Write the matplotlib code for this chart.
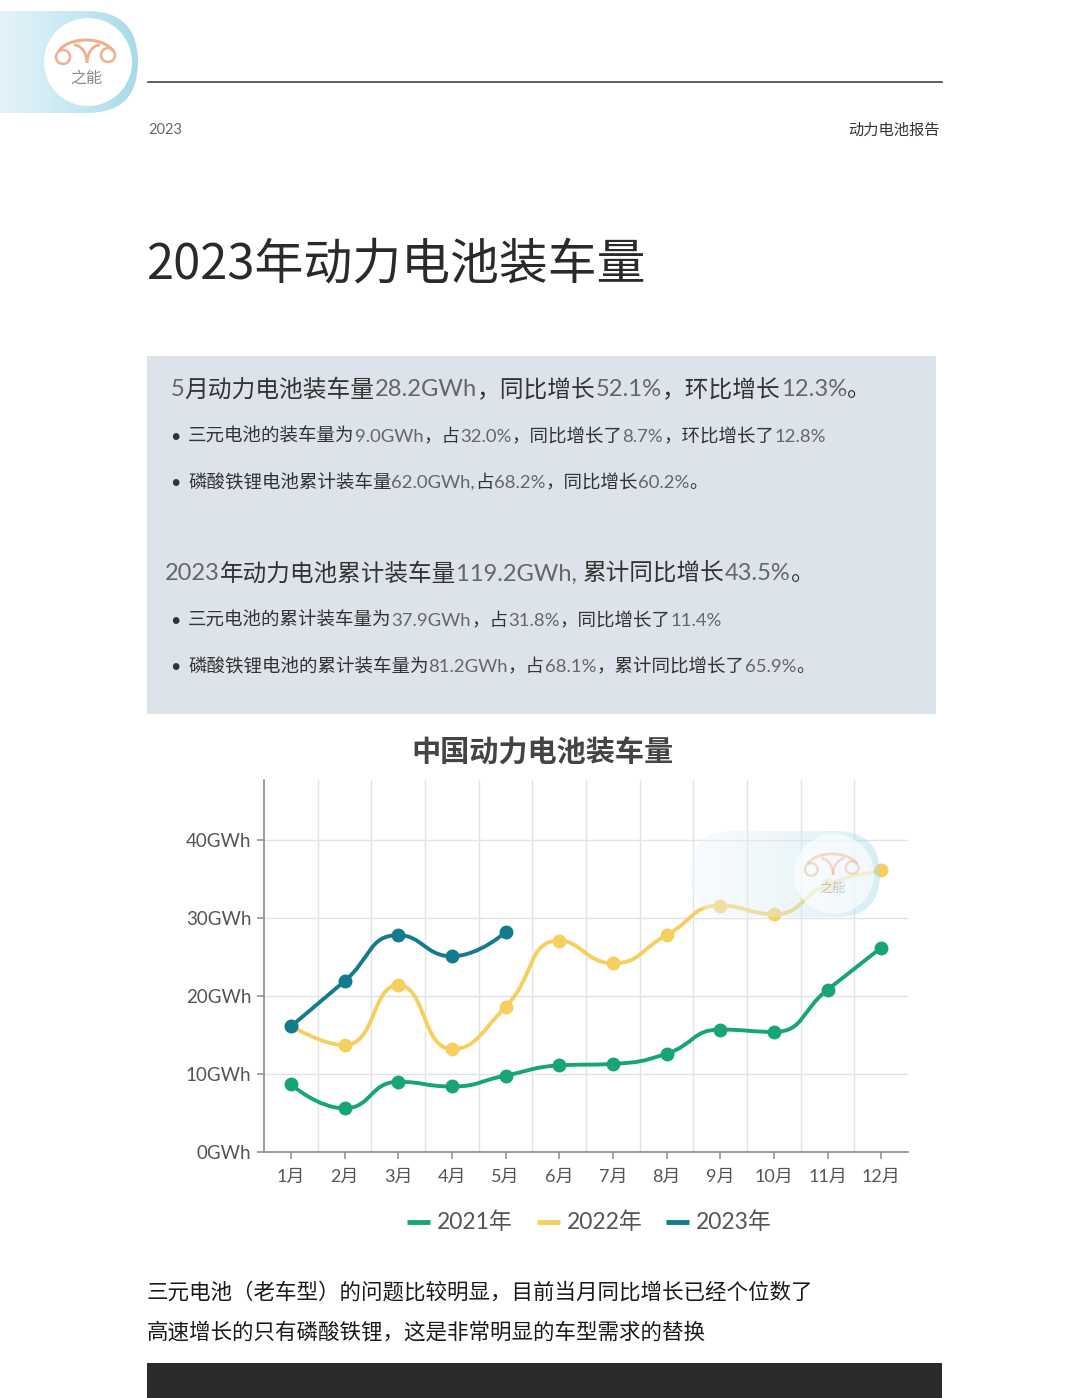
import re
import numpy as np
import matplotlib
matplotlib.use('Agg')
import matplotlib.pyplot as plt
from matplotlib.path import Path
from matplotlib.patches import PathPatch, Circle, FancyBboxPatch, Rectangle, Arc

plt.rcParams['font.family'] = ['Lato', 'Noto Sans CJK SC', 'DejaVu Sans']

# ---- data ----
months = ['1月', '2月', '3月', '4月', '5月', '6月', '7月', '8月', '9月', '10月', '11月', '12月']
y2021 = [8.7, 5.6, 9.0, 8.4, 9.8, 11.1, 11.3, 12.6, 15.7, 15.4, 20.8, 26.2]
y2022 = [16.2, 13.7, 21.4, 13.2, 18.6, 27.1, 24.2, 27.8, 31.6, 30.5, 34.3, 36.1]
y2023 = [16.1, 21.9, 27.8, 25.1, 28.2]
series_names = ['2021年', '2022年', '2023年']
series_colors = ['#17a576', '#f6cf5f', '#137b8d']
yticks = [0, 10, 20, 30, 40]
ytick_labels = [f'{v}GWh' for v in yticks]

page_title = '2023年动力电池装车量'
header_left = '2023'
header_right = '动力电池报告'
box_heading1 = '5月动力电池装车量28.2GWh，同比增长52.1%，环比增长12.3%。'
box_bullets1 = ['三元电池的装车量为9.0GWh，占32.0%，同比增长了8.7%，环比增长了12.8%',
                '磷酸铁锂电池累计装车量62.0GWh,占68.2%，同比增长60.2%。']
box_heading2 = '2023年动力电池累计装车量119.2GWh, 累计同比增长43.5%。'
box_bullets2 = ['三元电池的累计装车量为37.9GWh，占31.8%，同比增长了11.4%',
                '磷酸铁锂电池的累计装车量为81.2GWh，占68.1%，累计同比增长了65.9%。']
chart_title = '中国动力电池装车量'
footer_lines = ['三元电池（老车型）的问题比较明显，目前当月同比增长已经个位数了',
                '高速增长的只有磷酸铁锂，这是非常明显的车型需求的替换']

CJK = ['Noto Sans CJK SC', 'DejaVu Sans']
LATO = ['Lato', 'Noto Sans CJK SC', 'DejaVu Sans']


def smooth_path(xs, ys, sx, sy, smooth=0.5):
    # echarts-like smoothed bezier through the points (computed in pixel space)
    pts = np.column_stack([np.asarray(xs, float) * sx, np.asarray(ys, float) * sy])
    n = len(pts)
    verts = [pts[0]]
    codes = [Path.MOVETO]
    cp0 = pts[0].copy()
    for i in range(1, n):
        cur = pts[i]
        prev = pts[i - 1]
        if i < n - 1:
            nxt = pts[i + 1]
            v = nxt - prev
            l0 = np.hypot(*(cur - prev))
            l1 = np.hypot(*(nxt - cur))
            r = l1 / (l0 + l1)
            cp1 = cur - v * smooth * (1 - r)
            cn = cur + v * smooth * r
            cn = np.clip(cn, np.minimum(nxt, cur), np.maximum(nxt, cur))
            vv = cn - cur
            cp1 = cur - vv * l0 / l1
            cp1 = np.clip(cp1, np.minimum(prev, cur), np.maximum(prev, cur))
            vv = cur - cp1
            cn = cur + vv * l1 / l0
        else:
            cp1 = cur.copy()
            cn = cur.copy()
        verts += [cp0, cp1, cur]
        codes += [Path.CURVE4] * 3
        cp0 = cn
    verts = np.array(verts) / np.array([sx, sy])
    return Path(verts, codes)


def pill_logo(ax, x0, x1, y0, y1, cx, cy, r, alpha=1.0, text_size=10):
    h = y1 - y0
    grad = np.linspace(0, 1, 256)[None, :] ** 1.6
    c0 = np.array([238, 247, 251]) / 255
    c1 = np.array([165, 219, 231]) / 255
    img = c0[None, None, :] * (1 - grad[..., None]) + c1[None, None, :] * grad[..., None]
    clip = FancyBboxPatch((x0, y0), x1 - x0, h, boxstyle=f'round,pad=0,rounding_size={h / 2}',
                          transform=ax.transData, facecolor='none', edgecolor='none')
    ax.add_patch(clip)
    im = ax.imshow(img, extent=[x0, x1, y1, y0], aspect='auto', alpha=alpha, zorder=1)
    im.set_clip_path(clip)
    ax.add_patch(Circle((cx, cy), r, facecolor='white', edgecolor='none',
                        alpha=min(1, alpha * 1.4), zorder=2))
    s = r / 44.0
    col = '#efb08e'
    # car roof
    ax.add_patch(Arc((cx - 2 * s, cy - 5 * s), 58 * s, 34 * s, theta1=192, theta2=348,
                     color=col, lw=2.2 * s, alpha=alpha, zorder=3))
    # wheels
    ax.add_patch(Circle((cx - 25 * s, cy - 5 * s), 7 * s, facecolor='none', edgecolor=col,
                        lw=1.8 * s, alpha=alpha, zorder=3))
    ax.add_patch(Circle((cx + 20 * s, cy - 7 * s), 7 * s, facecolor='none', edgecolor=col,
                        lw=1.8 * s, alpha=alpha, zorder=3))
    # inner V
    ax.add_patch(Arc((cx - 14 * s, cy + 1 * s), 26 * s, 36 * s, theta1=270, theta2=360,
                     color=col, lw=2.0 * s, alpha=alpha, zorder=3))
    ax.add_patch(Arc((cx + 12 * s, cy + 1 * s), 26 * s, 36 * s, theta1=180, theta2=270,
                     color=col, lw=2.0 * s, alpha=alpha, zorder=3))
    ax.text(cx - 2 * s, cy + 16 * s, '之能', family=CJK, fontsize=text_size, color='#8a8a8a',
            ha='center', va='center', alpha=alpha, zorder=4)


def draw_runs(ax, renderer, x, y, text, size, dark='#333333', light='#666666'):
    # CJK parts darker, latin/digit parts lighter grey
    for part in re.findall(r'[\x20-\x7e]+|[^\x20-\x7e]+', text):
        if re.match(r'[\x20-\x7e]', part):
            t = ax.text(x, y, part, family=LATO, fontsize=size,
                        color=light, va='center', ha='left')
        else:
            t = ax.text(x, y, part, family=CJK, fontweight='medium', fontsize=size, color=dark,
                        va='center', ha='left')
        x += t.get_window_extent(renderer).width


def main():
    fig = plt.figure(figsize=(10.8, 13.98), dpi=100)
    renderer = fig.canvas.get_renderer()

    page = fig.add_axes([0, 0, 1, 1], zorder=0)
    page.set_xlim(0, 1080)
    page.set_ylim(1398, 0)
    page.axis('off')

    # header
    pill_logo(page, -60, 138, 11, 113, 88, 62, 44, text_size=11.5)
    page.plot([148, 942], [82, 82], color='#444444', lw=1.2)
    page.text(148, 130, header_left, family=LATO, fontsize=10.5, color='#666666', va='center')
    page.text(940, 130, header_right, family=CJK, fontsize=11, color='#333333', va='center', ha='right')

    page.text(146, 265, page_title, family=CJK, fontsize=35.2,
              color='#2a2a2a', va='center', ha='left')

    # summary box
    page.add_patch(Rectangle((147, 356), 789, 358, facecolor='#dde3ea', edgecolor='none'))
    draw_runs(page, renderer, 171, 390, box_heading1, 17.1)
    for yy, line in zip([437, 483], box_bullets1):
        page.text(175, yy, '•', family=LATO, fontsize=13, color='#333333', va='center', ha='center')
        draw_runs(page, renderer, 188, yy, line, 13.3)
    draw_runs(page, renderer, 165, 574, box_heading2, 17.0)
    for yy, line in zip([621, 667], box_bullets2):
        page.text(175, yy, '•', family=LATO, fontsize=13, color='#333333', va='center', ha='center')
        draw_runs(page, renderer, 188, yy, line, 13.3)

    # chart
    page.text(542, 753, chart_title, family=CJK, fontsize=21, fontweight='bold',
              color='#444444', va='center', ha='center')

    ax = fig.add_axes([264 / 1080, 1 - 1152 / 1398, 644 / 1080, 372 / 1398], zorder=1)
    ax.patch.set_alpha(0)
    ax.set_xlim(-0.5, 11.5)
    ax.set_ylim(0, 47.7)
    sx = 644 / 12
    sy = 372 / 47.7

    for yv in yticks[1:]:
        ax.axhline(yv, color='#e3e3e3', lw=1.0, zorder=0)
    for xv in np.arange(0.5, 11, 1.0):
        ax.axvline(xv, color='#e3e3e3', lw=1.0, zorder=0)

    for vals, color, z in zip([y2021, y2022, y2023], series_colors, [3, 4, 5]):
        xs = np.arange(len(vals))
        path = smooth_path(xs, vals, sx, sy)
        ax.add_patch(PathPatch(path, facecolor='none', edgecolor=color, lw=2.8,
                               capstyle='round', joinstyle='round', zorder=z))
        ax.plot(xs, vals, 'o', color=color, markersize=9, zorder=z)

    for s in ['top', 'right']:
        ax.spines[s].set_visible(False)
    ax.spines['left'].set_color('#8a8a8a')
    ax.spines['bottom'].set_color('#8a8a8a')
    ax.spines['left'].set_linewidth(1.2)
    ax.spines['bottom'].set_linewidth(1.2)
    ax.set_xticks(range(len(months)))
    ax.set_xticklabels(months, family=LATO, fontsize=13, color='#555555')
    ax.set_yticks(yticks)
    ax.set_yticklabels(ytick_labels, family=LATO, fontsize=13.5, color='#555555')
    ax.tick_params(axis='both', length=5, width=1.1, color='#8a8a8a')
    ax.tick_params(axis='x', pad=7)
    ax.tick_params(axis='y', pad=4)

    # watermark over the chart
    over = fig.add_axes([0, 0, 1, 1], zorder=2)
    over.set_xlim(0, 1080)
    over.set_ylim(1398, 0)
    over.axis('off')
    over.patch.set_alpha(0)
    pill_logo(over, 690, 880, 831, 917, 834, 874, 40, alpha=0.45, text_size=9.5)

    # legend
    for name, color, lx in zip(series_names, series_colors, [407, 537, 666]):
        page.plot([lx, lx + 23], [1222, 1222], color=color, lw=3.5, solid_capstyle='butt')
        page.text(lx + 30, 1222, name, family=LATO, fontsize=16.5, color='#555555',
                  va='center', ha='left')

    # footer text
    for yy, line in zip([1293, 1333], footer_lines):
        page.text(147, yy, line, family=CJK, fontsize=15.5, color='#1a1a1a', va='center', ha='left')
    page.add_patch(Rectangle((147, 1363), 795, 40, facecolor='#2b2b2b', edgecolor='none'))

    fig.savefig('out.png', dpi=100)


if __name__ == '__main__':
    main()
